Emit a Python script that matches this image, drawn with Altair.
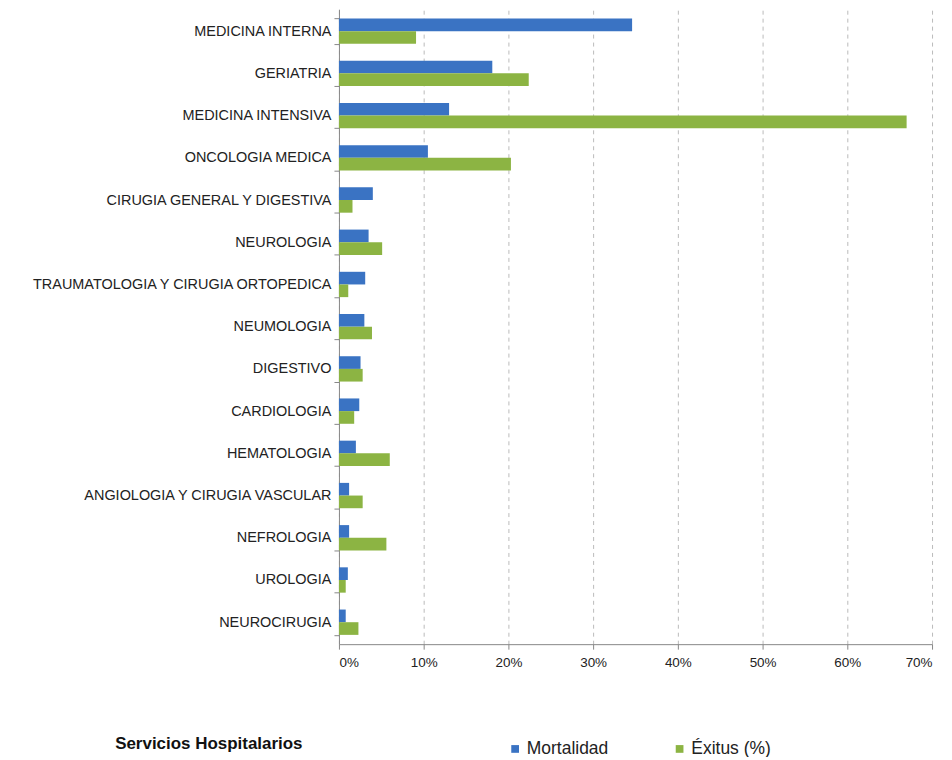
import altair as alt
import pandas as pd

servicios = [
    "MEDICINA INTERNA", "GERIATRIA", "MEDICINA INTENSIVA", "ONCOLOGIA MEDICA",
    "CIRUGIA GENERAL Y DIGESTIVA", "NEUROLOGIA", "TRAUMATOLOGIA Y CIRUGIA ORTOPEDICA",
    "NEUMOLOGIA", "DIGESTIVO", "CARDIOLOGIA", "HEMATOLOGIA",
    "ANGIOLOGIA Y CIRUGIA VASCULAR", "NEFROLOGIA", "UROLOGIA", "NEUROCIRUGIA",
]
mortalidad = [34.6, 18.1, 13.0, 10.5, 4.0, 3.5, 3.1, 3.0, 2.55, 2.4, 2.0, 1.2, 1.2, 1.05, 0.8]
exitus = [9.1, 22.4, 67.0, 20.3, 1.6, 5.1, 1.1, 3.9, 2.8, 1.8, 6.0, 2.8, 5.6, 0.8, 2.3]
series = ["Mortalidad", "Éxitus (%)"]
colors = ["#3A73C3", "#8CB443"]

rows = []
for s, m, e in zip(servicios, mortalidad, exitus):
    rows.append({"servicio": s, "serie": series[0], "valor": m})
    rows.append({"servicio": s, "serie": series[1], "valor": e})
df = pd.DataFrame(rows)

FONT = "Liberation Sans"

chart = alt.Chart(df).mark_bar().encode(
    y=alt.Y(
        "servicio:N",
        sort=servicios,
        scale=alt.Scale(paddingInner=0.40, paddingOuter=0.22),
        axis=alt.Axis(
            title="Servicios Hospitalarios",
            titleAngle=0,
            titleAlign="left",
            titleBaseline="middle",
            titleX=-225,
            titleY=737,
            titleFont=FONT,
            titleFontSize=17,
            titleFontWeight="bold",
            titleColor="#111111",
            labelFont=FONT,
            labelFontSize=14.5,
            labelColor="#222222",
            labelPadding=3,
            labelLimit=400,
            tickBand="extent",
            tickSize=5,
            tickColor="#888888",
            domainColor="#888888",
            grid=False,
        ),
    ),
    yOffset=alt.YOffset("serie:N", sort=series, scale=alt.Scale(paddingInner=0, paddingOuter=0)),
    x=alt.X(
        "valor:Q",
        scale=alt.Scale(domain=[0, 70], nice=False),
        axis=alt.Axis(
            title=None,
            values=[0, 10, 20, 30, 40, 50, 60, 70],
            labelExpr="datum.value + '%'",
            labelFont=FONT,
            labelFontSize=13.5,
            labelColor="#222222",
            labelPadding=6,
            tickSize=5,
            tickColor="#888888",
            domainColor="#888888",
            grid=True,
            gridDash=[4, 4],
            gridColor="#BBBBBB",
        ),
    ),
    color=alt.Color(
        "serie:N",
        sort=series,
        scale=alt.Scale(domain=series, range=colors),
        legend=alt.Legend(
            title=None,
            orient="none",
            direction="horizontal",
            legendX=168,
            legendY=733,
            symbolType="square",
            symbolSize=60,
            symbolStrokeWidth=0,
            labelFont=FONT,
            labelFontSize=17.5,
            labelColor="#222222",
            labelOffset=3,
            columnPadding=62,
        ),
    ),
).properties(
    width=595,
    height=637,
    autosize=alt.AutoSizeParams(type="none"),
    padding={"left": 332, "top": 0, "right": 12, "bottom": 112},
).configure_view(stroke=None)

chart.save("out.html", embed_options={"renderer": "svg", "actions": False})
